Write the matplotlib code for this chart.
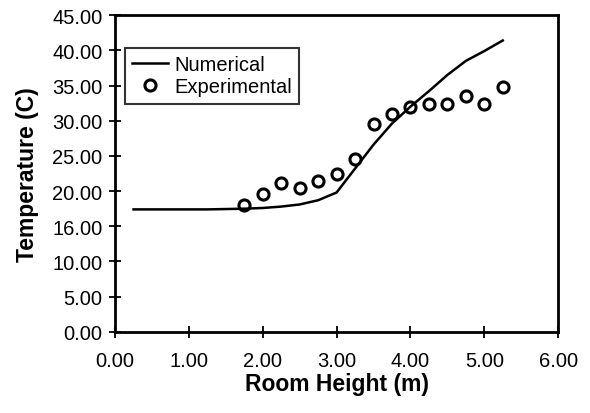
import matplotlib
matplotlib.use("Agg")
import matplotlib.pyplot as plt

plt.rcParams['font.family'] = ['Liberation Sans', 'DejaVu Sans']

# Numerical solution
num_x = [0.25, 0.50, 0.75, 1.00, 1.25, 1.50, 1.75, 2.00, 2.25, 2.50, 2.75,
         3.00, 3.25, 3.50, 3.75, 4.00, 4.25, 4.50, 4.75, 5.00, 5.25]
num_y = [17.4, 17.4, 17.4, 17.4, 17.4, 17.45, 17.5, 17.6, 17.8, 18.1, 18.7,
         19.8, 23.2, 26.6, 29.6, 32.0, 34.2, 36.5, 38.5, 39.9, 41.4]

# Experimental measurements
exp_x = [1.75, 2.00, 2.25, 2.50, 2.75, 3.00, 3.25, 3.50, 3.75, 4.00,
         4.25, 4.50, 4.75, 5.00, 5.25]
exp_y = [18.0, 19.6, 21.1, 20.5, 21.5, 22.5, 24.5, 29.5, 31.0, 32.0,
         32.4, 32.4, 33.5, 32.4, 34.8]

x_ticks = [0, 1, 2, 3, 4, 5, 6]
x_labels = ["0.00", "1.00", "2.00", "3.00", "4.00", "5.00", "6.00"]
y_ticks = [0, 5, 10, 15, 20, 25, 30, 35, 40, 45]
y_labels = ["0.00", "5.00", "10.00", "16.00", "20.00", "25.00", "30.00",
            "35.00", "40.00", "45.00"]

fig = plt.figure(figsize=(5.9, 4.14), dpi=100)
ax = fig.add_axes([0.195, 0.196, 0.751, 0.765])

ax.plot(num_x, num_y, color='black', lw=1.8, label='Numerical')
ax.plot(exp_x, exp_y, linestyle='none', marker='o', ms=8, mfc='none',
        mec='black', mew=2.2, label='Experimental')

ax.set_xlim(0, 6)
ax.set_ylim(0, 45)
ax.set_xticks(x_ticks)
ax.set_xticklabels(x_labels)
ax.set_yticks(y_ticks)
ax.set_yticklabels(y_labels)
ax.tick_params(axis='both', direction='inout', length=8, width=1.3,
               labelsize=14.5, colors='black')
ax.tick_params(axis='x', pad=10)
ax.tick_params(axis='y', pad=5)
for s in ax.spines.values():
    s.set_linewidth(2.0)

ax.set_xlabel('Room Height (m)', fontsize=16.5, fontweight='bold', labelpad=1)
ax.set_ylabel('Temperature (C)', fontsize=16.5, fontweight='bold')
ax.yaxis.set_label_coords(-0.172, 0.5)

leg = ax.legend(loc='upper left', bbox_to_anchor=(0.022, 0.895), fontsize=14.5,
                frameon=True, fancybox=False, edgecolor='black',
                handlelength=1.8, handletextpad=0.3, borderpad=0.35,
                borderaxespad=0, labelspacing=0.15)
leg.get_frame().set_linewidth(1.5)

fig.savefig('out.png', dpi=100)
